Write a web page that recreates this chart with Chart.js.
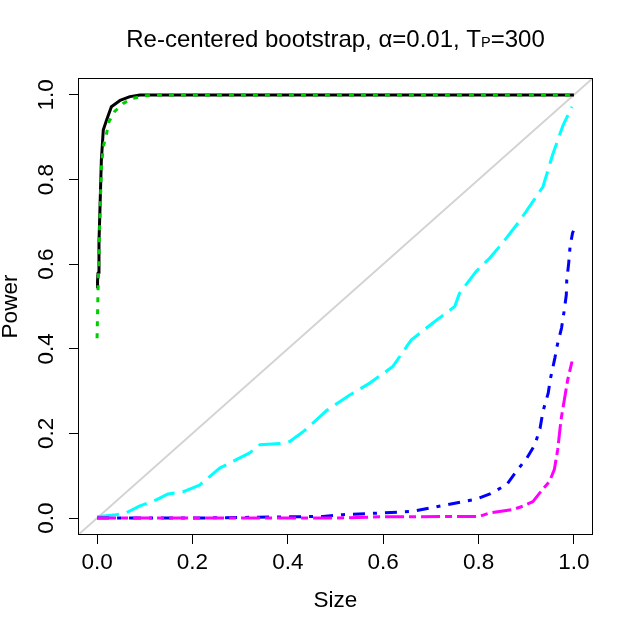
<!DOCTYPE html>
<html>
<head>
<meta charset="utf-8">
<script src="https://cdn.jsdelivr.net/npm/chart.js@4/dist/chart.umd.min.js"></script>
<style>
  html, body { margin: 0; padding: 0; background: #fff; }
  canvas { display: block; }
</style>
</head>
<body>
<canvas id="c" width="636" height="633"></canvas>
<script>
// ---- data ----
const tickValues = [0, 0.2, 0.4, 0.6, 0.8, 1.0];

const solidX  = [0, 0.001, 0.002, 0.004, 0.006, 0.009, 0.013, 0.02, 0.03, 0.048, 0.069, 0.09, 1.0];
const solidY  = [0.543, 0.56, 0.579, 0.653, 0.728, 0.846, 0.917, 0.941, 0.972, 0.987, 0.996, 1.0, 1.0];

const dottedX = [0, 0.002, 0.004, 0.006, 0.009, 0.011, 0.014, 0.02, 0.025, 0.037, 0.055, 0.075, 0.102, 0.127, 1.0];
const dottedY = [0.425, 0.539, 0.626, 0.712, 0.823, 0.854, 0.882, 0.909, 0.937, 0.961, 0.980, 0.992, 0.998, 1.0, 1.0];

const cyanX = [0, 0.04, 0.062, 0.09, 0.124, 0.149, 0.18, 0.215, 0.257, 0.292, 0.32, 0.341, 0.384, 0.404, 0.432, 0.46, 0.481, 0.53, 0.572, 0.62, 0.659, 0.704, 0.75, 0.76, 0.795, 0.823, 0.851, 0.886, 0.935, 0.956, 0.977, 0.996];
const cyanY = [0.003, 0.008, 0.013, 0.029, 0.043, 0.057, 0.062, 0.078, 0.118, 0.138, 0.154, 0.173, 0.176, 0.181, 0.204, 0.232, 0.254, 0.291, 0.319, 0.358, 0.421, 0.461, 0.50, 0.531, 0.583, 0.614, 0.651, 0.702, 0.783, 0.861, 0.928, 0.972];

const blueX = [0, 0.2, 0.334, 0.474, 0.515, 0.593, 0.663, 0.726, 0.796, 0.824, 0.859, 0.880, 0.901, 0.918, 0.929, 0.935, 0.946, 0.951, 0.960, 0.965, 0.974, 0.979, 0.984, 0.985, 0.989, 0.992, 0.997, 0.999];
const blueY = [0, 0, 0.002, 0.004, 0.008, 0.012, 0.016, 0.030, 0.045, 0.057, 0.079, 0.112, 0.141, 0.173, 0.212, 0.252, 0.295, 0.331, 0.378, 0.408, 0.449, 0.486, 0.527, 0.563, 0.602, 0.642, 0.673, 0.679];

const magentaX = [0, 0.5, 0.593, 0.802, 0.823, 0.872, 0.893, 0.914, 0.928, 0.949, 0.959, 0.966, 0.973, 0.98, 0.987, 0.996];
const magentaY = [0, 0, 0.003, 0.004, 0.012, 0.020, 0.028, 0.039, 0.059, 0.087, 0.115, 0.162, 0.233, 0.28, 0.327, 0.37];

const diagX = [-0.04, 1.04];
const diagY = [-0.04, 1.04];

const xTitle = 'Size';
const yTitle = 'Power';
const titleMain = 'Re-centered bootstrap, \u03B1=0.01, T';
const titleSub = 'P';
const titleTail = '=300';

// ---- helpers ----
const pts = (xs, ys) => xs.map((x, i) => ({ x: x, y: ys[i] }));
const FONT = '"Liberation Sans", Arial, sans-serif';

function lineDs(xs, ys, color, dash, width) {
  return {
    data: pts(xs, ys),
    borderColor: color,
    backgroundColor: color,
    borderWidth: width,
    borderDash: dash,
    borderCapStyle: 'butt',
    borderJoinStyle: 'round',
    pointRadius: 0,
    pointHoverRadius: 0,
    tension: 0,
    fill: false
  };
}

const boxAndTitle = {
  id: 'boxAndTitle',
  afterDraw(chart) {
    const ctx = chart.ctx;
    const a = chart.chartArea;
    ctx.save();
    ctx.strokeStyle = '#000';
    ctx.lineWidth = 1;
    ctx.strokeRect(Math.round(a.left) + 0.5, Math.round(a.top) + 0.5,
                   Math.round(a.right - a.left) - 1, Math.round(a.bottom - a.top) - 1);
    // title with subscript
    const big = '24px ' + FONT, small = '14.5px ' + FONT;
    ctx.fillStyle = '#000';
    ctx.textBaseline = 'alphabetic';
    ctx.font = big;
    const w1 = ctx.measureText(titleMain).width;
    const w3 = ctx.measureText(titleTail).width;
    ctx.font = small;
    const w2 = ctx.measureText(titleSub).width;
    const total = w1 + w2 + w3;
    let x = (a.left + a.right) / 2 - total / 2;
    const base = 46.5;
    ctx.textAlign = 'left';
    ctx.font = big;
    ctx.fillText(titleMain, x, base);
    ctx.font = small;
    ctx.fillText(titleSub, x + w1, base);
    ctx.font = big;
    ctx.fillText(titleTail, x + w1 + w2, base);
    ctx.restore();
  }
};

const setTicks = s => { s.ticks = tickValues.map(v => ({ value: v })); };

new Chart(document.getElementById('c'), {
  type: 'line',
  data: {
    datasets: [
      lineDs(magentaX, magentaY, '#FF00FF', [19, 5, 7, 5], 3),
      lineDs(blueX, blueY, '#0000FF', [12, 8, 4, 8], 3),
      lineDs(cyanX, cyanY, '#00FFFF', [22, 8], 3),
      lineDs(dottedX, dottedY, '#00CD00', [5, 7], 3),
      lineDs(solidX, solidY, '#000000', [], 3),
      lineDs(diagX, diagY, '#D3D3D3', [], 2)
    ]
  },
  options: {
    responsive: false,
    devicePixelRatio: 1,
    animation: false,
    events: [],
    layout: { padding: { top: 78, right: 43, left: 0, bottom: 0 } },
    plugins: { legend: { display: false }, tooltip: { enabled: false }, title: { display: false } },
    scales: {
      x: {
        type: 'linear',
        min: -0.04, max: 1.04,
        afterBuildTicks: setTicks,
        afterFit: s => { s.height = 633 - 535; },
        border: { display: false },
        grid: { display: true, drawOnChartArea: false, drawTicks: true, tickLength: 9, color: '#000', lineWidth: 1 },
        ticks: {
          color: '#000', padding: 5, maxRotation: 0, autoSkip: false,
          font: { family: FONT, size: 22.5 },
          callback: v => Number(v).toFixed(1)
        },
        title: { display: true, text: xTitle, color: '#000', font: { family: FONT, size: 22.5 }, padding: { top: 0, bottom: 19 } }
      },
      y: {
        type: 'linear',
        min: -0.04, max: 1.04,
        afterBuildTicks: setTicks,
        afterFit: s => { s.width = 78; },
        border: { display: false },
        grid: { display: true, drawOnChartArea: false, drawTicks: true, tickLength: 9, color: '#000', lineWidth: 1 },
        ticks: {
          color: '#000', padding: 6.4, minRotation: 90, maxRotation: 90, crossAlign: 'center', autoSkip: false,
          font: { family: FONT, size: 22.5 },
          callback: v => Number(v).toFixed(1)
        },
        title: { display: true, text: yTitle, color: '#000', font: { family: FONT, size: 22.5, lineHeight: 1 }, padding: { top: -0.75, bottom: 0 } }
      }
    }
  },
  plugins: [boxAndTitle]
});
</script>
</body>
</html>
